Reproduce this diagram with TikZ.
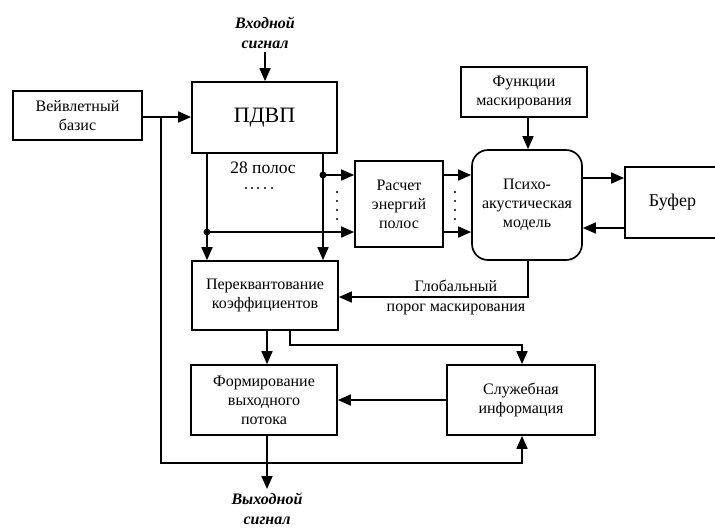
\documentclass[tikz,border=0pt]{standalone}
\usepackage{fontspec}
\setmainfont{Liberation Serif}
\usetikzlibrary{arrows.meta}
\begin{document}
\begin{tikzpicture}[x=1pt,y=-1pt,
  box/.style={draw,line width=1.7pt,inner sep=0pt,align=center,font=\fontsize{16}{19}\selectfont},
  arr/.style={line width=1.7pt,-{Triangle[length=13pt,width=11pt]}},
  ln/.style={line width=1.7pt},
  lab/.style={align=center,font=\fontsize{16}{19}\selectfont},
  sig/.style={align=center,font=\fontsize{16}{20}\selectfont\bfseries\itshape},
  jdot/.style={circle,fill,inner sep=0pt,minimum size=7pt},
  sdot/.style={circle,fill,inner sep=0pt,minimum size=2.2pt}]
\useasboundingbox (0,0) rectangle (715,531);
% boxes
\node[box,minimum width=129pt,minimum height=49pt] (baz) at (77.5,115.5) {Вейвлетный\\базис};
\node[box,minimum width=145pt,minimum height=71pt,font=\fontsize{22}{26}\selectfont] (pdvp) at (264.5,117.5) {ПДВП};
\node[box,minimum width=88pt,minimum height=86pt] (rasch) at (399,204) {Расчет\\энергий\\полос};
\node[box,minimum width=110pt,minimum height=110pt,rounded corners=16pt] (psy) at (527,205) {Психо-\\акустическая\\модель};
\node[box,minimum width=126pt,minimum height=50pt] (func) at (524,92) {Функции\\маскирования};
\node[box,minimum width=95pt,minimum height=71pt,text width=95pt,font=\fontsize{18}{21}\selectfont] (buf) at (672.5,202.5) {Буфер};
\node[box,minimum width=146pt,minimum height=69pt] (perekv) at (265,295.5) {Переквантование\\коэффициентов};
\node[box,minimum width=146pt,minimum height=70pt] (form) at (264,400) {Формирование\\выходного\\потока};
\node[box,minimum width=148pt,minimum height=70pt] (sluzh) at (521,400) {Служебная\\информация};
% signal labels
\node[sig,anchor=south] (inlab) at (265,52) {Входной\\сигнал};
\node[sig,anchor=north] (outlab) at (267,489) {Выходной\\сигнал};
\node[lab,font=\fontsize{17.5}{20}\selectfont] (pol) at (263,168) {28 полос};
\node[lab] (glob) at (456,297) {Глобальный\\[1pt]порог маскирования};
% coordinates
\coordinate (j1) at (161,117);
\coordinate (ja) at (323,175);
\coordinate (jb) at (207,232);
\coordinate (c1) at (161,463);
\coordinate (c2) at (522,463);
\coordinate (g1) at (528,297);
\coordinate (p1) at (290,345);
\coordinate (p2) at (522,345);
% connectors
\draw[arr] (inlab.south) -- (inlab.south |- pdvp.north);
\draw[arr] (baz.east |- j1) -- (j1 -| pdvp.west);
\draw[arr] (pdvp.south -| jb) -- (jb |- perekv.north);
\draw[arr] (pdvp.south -| ja) -- (ja |- perekv.north);
\draw[arr] (ja) -- (ja -| rasch.west);
\draw[arr] (jb) -- (jb -| rasch.west);
\node[jdot] at (ja) {};
\node[jdot] at (jb) {};
\draw[arr] (rasch.east |- ja) -- (ja -| psy.west);
\draw[arr] (rasch.east |- jb) -- (jb -| psy.west);
\draw[arr] (func.south -| g1) -- (g1 |- psy.north);
\draw[arr] (psy.east |- 0,178) -- (buf.west |- 0,178);
\draw[arr] (buf.west |- 0,228) -- (psy.east |- 0,228);
\draw[arr] (g1 |- psy.south) -- (g1) -- (g1 -| perekv.east);
\draw[arr] (perekv.south -| 267,0) -- (form.north -| 267,0);
\draw[arr] (perekv.south -| p1) -- (p1) -- (p2) -- (sluzh.north -| p2);
\draw[arr] (sluzh.west |- 0,400) -- (form.east |- 0,400);
\draw[arr] (j1) -- (c1) -- (c2) -- (sluzh.south -| c2);
\draw[arr] (form.south -| 267,0) -- (outlab.north -| 267,0);
% dots
\foreach \yy in {192,201,210,219} {
  \node[sdot] at (337,\yy) {};
  \node[sdot] at (455,\yy) {};
}
\foreach \xx in {246,252,258,265,272} { \node[sdot] at (\xx,188) {}; }
\end{tikzpicture}
\end{document}
